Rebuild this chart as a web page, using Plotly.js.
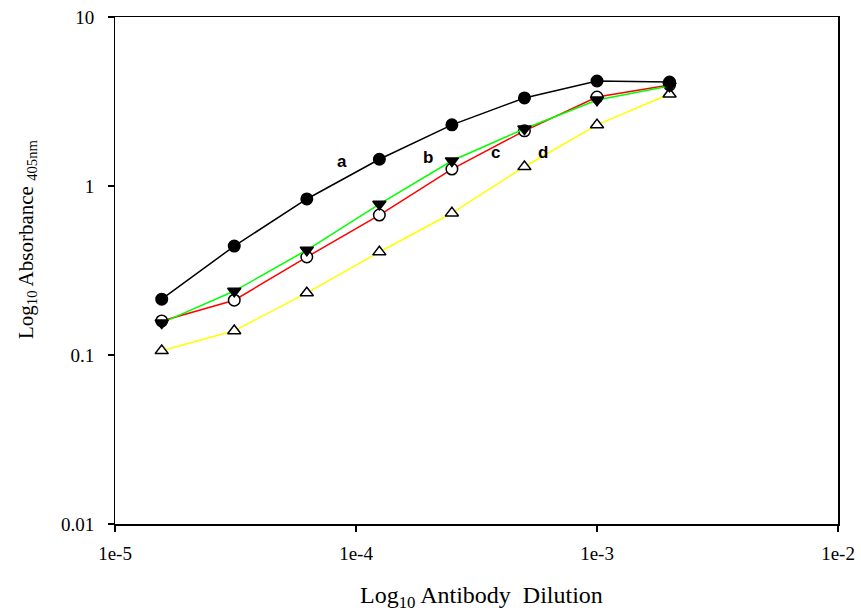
<!DOCTYPE html>
<html><head><meta charset="utf-8">
<script src="https://cdn.plot.ly/plotly-3.0.1.min.js"></script>
<style>html,body{margin:0;padding:0;background:#fff}</style>
</head><body>
<div id="chart" style="width:861px;height:616px"></div>
<script>
const dilution = [1.5625e-5, 3.125e-5, 6.25e-5, 1.25e-4, 2.5e-4, 5e-4, 1e-3, 2e-3];
const seriesA = [0.214, 0.441, 0.838, 1.44, 2.30, 3.32, 4.18, 4.12];
const seriesB = [0.155, 0.239, 0.418, 0.782, 1.41, 2.18, 3.23, 3.91];
const seriesC = [0.159, 0.211, 0.380, 0.673, 1.26, 2.12, 3.36, 3.96];
const seriesD = [0.106, 0.139, 0.233, 0.407, 0.692, 1.30, 2.30, 3.50];
const xTickVals = [1e-5, 1e-4, 1e-3, 1e-2];
const xTickText = ['1e-5', '1e-4', '1e-3', '1e-2'];
const yTickVals = [0.01, 0.1, 1, 10];
const yTickText = ['0.01', '0.1', '1', '10'];
const labels = ['a', 'b', 'c', 'd'];
const labelX = [8.77e-5, 1.98e-4, 3.80e-4, 5.99e-4];
const labelY = [1.39, 1.48, 1.57, 1.57];
const xTitle = 'Log<sub>10</sub> Antibody  Dilution';
const yTitle = 'Log<sub>10</sub> Absorbance <sub>405nm</sub>';

function tr(y, color, symbol, fill) {
  return {x: dilution, y: y, type: 'scatter', mode: 'lines+markers',
    line: {color: color, width: 1.5},
    marker: {symbol: symbol, size: 11.5, color: fill, line: {color: '#000', width: 1.5}}};
}
const data = [
  tr(seriesD, '#ffff00', 'triangle-up', '#ffffff'),
  tr(seriesC, '#ff0000', 'circle', '#ffffff'),
  tr(seriesB, '#00ff00', 'triangle-down', '#000000'),
  tr(seriesA, '#000000', 'circle', '#000000')
];
const serif = 'Liberation Serif';
const ann = labels.map((t, i) => ({x: Math.log10(labelX[i]), y: Math.log10(labelY[i]), xref: 'x', yref: 'y',
  text: t, showarrow: false, font: {family: 'Liberation Sans', size: 17, color: '#000', weight: 'bold'}}));
ann.push({x: (481 - 115) / (838 - 115), xref: 'paper', y: -(597 - 524) / (524 - 17), yref: 'paper',
  text: xTitle, showarrow: false, xanchor: 'center', yanchor: 'middle',
  font: {family: serif, size: 24, color: '#000'}});
ann.push({x: -(115 - 27) / (838 - 115), xref: 'paper', y: (524 - 239) / (524 - 17), yref: 'paper',
  text: yTitle, textangle: -90, showarrow: false, xanchor: 'center', yanchor: 'middle',
  font: {family: serif, size: 21, color: '#000'}});
const layout = {
  width: 861, height: 616,
  margin: {l: 115, r: 23, t: 17, b: 92},
  paper_bgcolor: '#fff', plot_bgcolor: '#fff',
  showlegend: false,
  font: {family: serif, size: 19, color: '#000'},
  xaxis: {type: 'log', range: [-5, -2], tickvals: xTickVals, ticktext: xTickText,
    tickfont: {family: serif, size: 19, color: '#000'},
    showgrid: false, zeroline: false, showline: true, mirror: true, linecolor: '#000', linewidth: 1.5,
    ticks: 'outside', ticklen: 6, tickwidth: 1.5, tickcolor: '#000', ticklabelstandoff: 6},
  yaxis: {type: 'log', range: [-2, 1], tickvals: yTickVals,
    ticktext: yTickText.map(t => t + '\u00a0\u00a0'),
    tickfont: {family: serif, size: 19, color: '#000'},
    showgrid: false, zeroline: false, showline: true, mirror: true, linecolor: '#000', linewidth: 1.5,
    ticks: 'outside', ticklen: 6, tickwidth: 1.5, tickcolor: '#000'},
  annotations: ann
};
Plotly.newPlot('chart', data, layout, {displayModeBar: false, staticPlot: true});
</script>
</body></html>
